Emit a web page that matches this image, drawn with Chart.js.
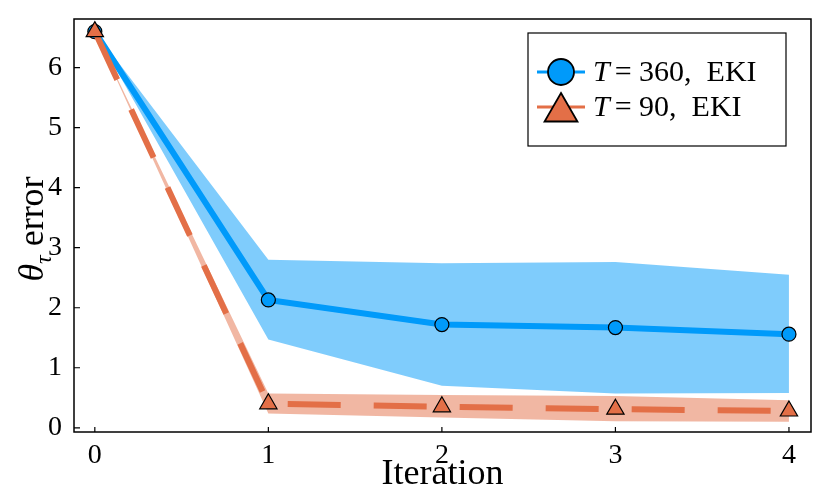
<!DOCTYPE html>
<html>
<head>
<meta charset="utf-8">
<script src="https://cdn.jsdelivr.net/npm/chart.js@4.4.1/dist/chart.umd.min.js"></script>
<style>
  html, body { margin: 0; padding: 0; background: #fff; }
  #wrap { width: 830px; height: 498px; }
</style>
</head>
<body>
<div id="wrap"><canvas id="grafico"></canvas></div>
<script>
// Datos
const iteraciones = [0, 1, 2, 3, 4];
const errorT360 = [6.6, 2.13, 1.72, 1.67, 1.56];
const altoT360 = [6.6, 2.80, 2.74, 2.76, 2.55];
const bajoT360 = [6.6, 1.47, 0.70, 0.57, 0.58];
const errorT90 = [6.6, 0.40, 0.35, 0.31, 0.28];
const altoT90 = [6.6, 0.57, 0.545, 0.53, 0.46];
const bajoT90 = [6.6, 0.24, 0.17, 0.11, 0.10];
const ticksX = [0, 1, 2, 3, 4];
const ticksY = [0, 1, 2, 3, 4, 5, 6];

const azul = '#009AFA';
const naranja = '#E36F47';
const fuente = '"Liberation Serif", "DejaVu Serif", serif';

const puntos = (ys) => iteraciones.map((x, i) => ({ x: x, y: ys[i] }));

// Marco, marcas de los ejes hacia dentro, títulos y leyenda
const decoracion = {
    id: 'decoracion',
    afterDraw(chart) {
        const ctx = chart.ctx;
        const a = chart.chartArea;
        const sx = chart.scales.x, sy = chart.scales.y;
        ctx.save();
        ctx.strokeStyle = '#000';
        ctx.lineWidth = 1.5;
        ctx.strokeRect(a.left, a.top, a.right - a.left, a.bottom - a.top);
        ctx.lineWidth = 1.2;
        ctx.beginPath();
        ticksX.forEach(v => {
            const px = sx.getPixelForValue(v);
            ctx.moveTo(px, a.bottom); ctx.lineTo(px, a.bottom - 5);
        });
        ticksY.forEach(v => {
            const py = sy.getPixelForValue(v);
            ctx.moveTo(a.left, py); ctx.lineTo(a.left + 6, py);
        });
        ctx.stroke();

        // título eje x
        ctx.fillStyle = '#000';
        ctx.textAlign = 'center';
        ctx.textBaseline = 'alphabetic';
        ctx.font = '36px ' + fuente;
        ctx.fillText('Iteration', (a.left + a.right) / 2, 484);

        // título eje y: θ_τ error
        ctx.save();
        ctx.translate(43, 229);
        ctx.rotate(-Math.PI / 2);
        ctx.textAlign = 'left';
        ctx.font = 'italic 36px ' + fuente;
        const wTheta = ctx.measureText('θ').width;
        ctx.font = 'italic 24px ' + fuente;
        const wTau = ctx.measureText('τ').width;
        ctx.font = '36px ' + fuente;
        const wErr = ctx.measureText(' error').width;
        let x0 = -(wTheta + wTau + wErr) / 2;
        ctx.font = 'italic 36px ' + fuente;
        ctx.fillText('θ', x0, 0);
        x0 += wTheta;
        ctx.font = 'italic 24px ' + fuente;
        ctx.fillText('τ', x0, 8);
        x0 += wTau;
        ctx.font = '36px ' + fuente;
        ctx.fillText(' error', x0, 0);
        ctx.restore();

        // leyenda
        const caja = { x: 528, y: 33, w: 258, h: 113 };
        ctx.fillStyle = '#fff';
        ctx.fillRect(caja.x, caja.y, caja.w, caja.h);
        ctx.strokeStyle = '#000';
        ctx.lineWidth = 1.2;
        ctx.strokeRect(caja.x, caja.y, caja.w, caja.h);
        const filas = [
            { color: azul, estilo: 'circle', radio: 13, dy: 0, valor: '360' },
            { color: naranja, estilo: 'triangle', radio: 19, dy: 5, valor: '90' }
        ];
        filas.forEach((f, i) => {
            const yy = 72 + i * 35;
            ctx.strokeStyle = f.color;
            ctx.lineWidth = 3;
            ctx.beginPath();
            ctx.moveTo(537, yy); ctx.lineTo(585, yy);
            ctx.stroke();
            ctx.fillStyle = f.color;
            ctx.strokeStyle = '#000';
            ctx.lineWidth = 1.8;
            Chart.helpers.drawPoint(ctx, { pointStyle: f.estilo, radius: f.radio, rotation: 0, borderWidth: 1.8 }, 561, yy + f.dy);
            ctx.fillStyle = '#000';
            ctx.textAlign = 'left';
            ctx.textBaseline = 'middle';
            let tx = 593;
            ctx.font = 'italic 30px ' + fuente;
            ctx.fillText('T', tx, yy + 1);
            tx += ctx.measureText('T').width + 5;
            ctx.font = '30px ' + fuente;
            ctx.fillText('= ' + f.valor + ',  EKI', tx, yy + 1);
        });
        ctx.restore();
    }
};

const grafico = new Chart(document.getElementById('grafico').getContext('2d'), {
    type: 'line',
    data: {
        datasets: [
            { data: puntos(bajoT360), borderWidth: 0, pointRadius: 0, fill: false, order: 4 },
            { data: puntos(altoT360), borderWidth: 0, pointRadius: 0, fill: '-1', backgroundColor: 'rgba(0,154,250,0.5)', order: 4 },
            { data: puntos(bajoT90), borderWidth: 0, pointRadius: 0, fill: false, order: 3 },
            { data: puntos(altoT90), borderWidth: 0, pointRadius: 0, fill: '-1', backgroundColor: 'rgba(227,111,71,0.5)', order: 3 },
            {
                label: 'T = 360, EKI', data: puntos(errorT360), borderColor: azul, borderWidth: 6,
                pointStyle: 'circle', pointRadius: 7, pointBackgroundColor: azul,
                pointBorderColor: '#000', pointBorderWidth: 1.2, fill: false, order: 2
            },
            {
                label: 'T = 90, EKI', data: puntos(errorT90), borderColor: naranja, borderWidth: 6,
                borderDash: [53, 33],
                pointStyle: 'triangle', pointRadius: 10, pointBackgroundColor: naranja,
                pointBorderColor: '#000', pointBorderWidth: 1.2, fill: false, order: 1
            }
        ]
    },
    options: {
        responsive: true,
        maintainAspectRatio: false,
        animation: false,
        layout: { padding: { top: 19, right: 19, left: 0, bottom: 0 } },
        plugins: { legend: { display: false }, tooltip: { enabled: false } },
        scales: {
            x: {
                type: 'linear', min: -0.12, max: 4.127,
                afterBuildTicks: (s) => { s.ticks = ticksX.map(v => ({ value: v })); },
                afterFit: (s) => { s.height = 66; s.paddingLeft = 0; s.paddingRight = 0; },
                grid: { drawOnChartArea: false, drawTicks: false },
                border: { display: false },
                ticks: { color: '#000', padding: 7, font: { family: fuente, size: 28 } }
            },
            y: {
                type: 'linear', min: -0.07, max: 6.81,
                afterBuildTicks: (s) => { s.ticks = ticksY.map(v => ({ value: v })); },
                afterFit: (s) => { s.width = 74; s.paddingTop = 0; s.paddingBottom = 0; },
                grid: { drawOnChartArea: false, drawTicks: false },
                border: { display: false },
                ticks: { color: '#000', padding: 12, font: { family: fuente, size: 28 } }
            }
        }
    },
    plugins: [decoracion]
});
</script>
</body>
</html>
